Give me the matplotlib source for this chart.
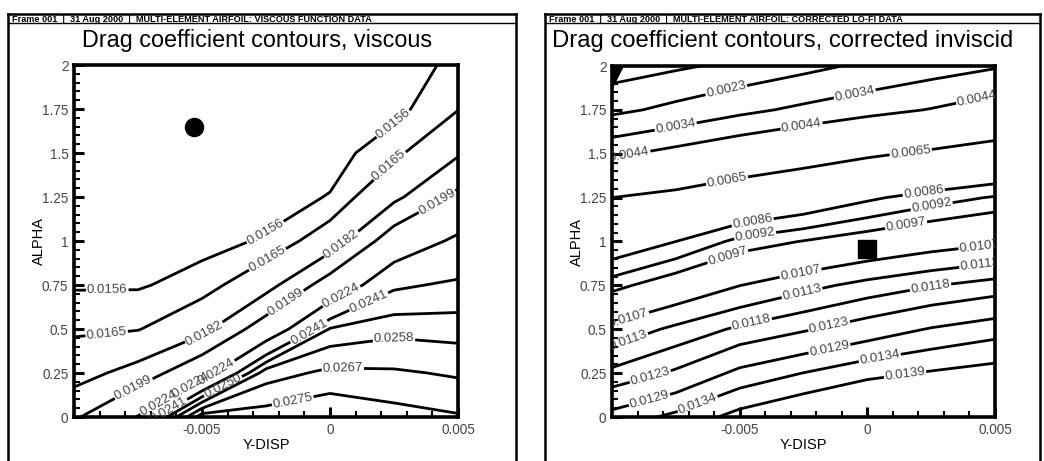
import numpy as np
import matplotlib
matplotlib.use('Agg')
import matplotlib.pyplot as plt
from matplotlib.lines import Line2D
from matplotlib.ticker import FixedLocator, MultipleLocator, FuncFormatter

plt.rcParams['font.family'] = ['Liberation Sans', 'DejaVu Sans']
plt.rcParams['axes.unicode_minus'] = False

# ---------------- data ----------------
ydisp = [-0.01, -0.0075, -0.005, -0.0025, 0.0, 0.0025, 0.005]
alpha = [0.0, 0.25, 0.5, 0.75, 1.0, 1.25, 1.5, 1.75, 2.0]

# viscous drag coefficient (rows = alpha, cols = ydisp)
cd_viscous = [
    [0.01960, 0.02250, 0.02800, 0.02790, 0.02818, 0.02782, 0.02758],
    [0.01754, 0.01882, 0.02144, 0.02631, 0.02691, 0.02682, 0.02659],
    [0.01627, 0.01643, 0.01770, 0.02093, 0.02507, 0.02553, 0.02542],
    [0.01551, 0.01550, 0.01597, 0.01755, 0.02081, 0.02391, 0.02430],
    [0.01530, 0.01525, 0.01530, 0.01570, 0.01724, 0.02099, 0.02278],
    [0.01510, 0.01500, 0.01500, 0.01520, 0.01565, 0.01781, 0.02033],
    [0.01500, 0.01485, 0.01470, 0.01490, 0.01520, 0.01620, 0.01800],
    [0.01490, 0.01480, 0.01460, 0.01480, 0.01500, 0.01530, 0.01645],
    [0.01490, 0.01480, 0.01470, 0.01480, 0.01490, 0.01510, 0.01584],
]

# corrected inviscid drag coefficient (rows = alpha, cols = ydisp)
cd_corrected = [
    [0.01309, 0.01353, 0.01409, 0.01445, 0.01477, 0.01490, 0.01500],
    [0.01193, 0.01239, 0.01304, 0.01341, 0.01375, 0.01395, 0.01411],
    [0.01090, 0.01143, 0.01190, 0.01224, 0.01259, 0.01294, 0.01319],
    [0.00950, 0.01013, 0.01069, 0.01112, 0.01148, 0.01177, 0.01201],
    [0.00798, 0.00860, 0.00938, 0.00973, 0.01007, 0.01037, 0.01060],
    [0.00650, 0.00688, 0.00746, 0.00791, 0.00847, 0.00892, 0.00926],
    [0.00420, 0.00475, 0.00530, 0.00580, 0.00630, 0.00672, 0.00717],
    [0.00205, 0.00257, 0.00314, 0.00362, 0.00406, 0.00445, 0.00495],
    [0.00080, 0.00115, 0.00153, 0.00200, 0.00250, 0.00293, 0.00330],
]

levels_viscous = [0.0156, 0.0165, 0.0182, 0.0199, 0.0224, 0.0241, 0.0250, 0.0258, 0.0267, 0.0275]
levels_corrected = [0.0013, 0.0023, 0.0034, 0.0044, 0.0065, 0.0086, 0.0092, 0.0097,
                    0.0107, 0.0113, 0.0118, 0.0123, 0.0129, 0.0134, 0.0139]

opt_viscous = (-0.0053, 1.645)
opt_corrected = (0.0, 0.96)
corner_corrected = (-0.01, 2.0)

y_ticks = [0, 0.25, 0.5, 0.75, 1.0, 1.25, 1.5, 1.75, 2.0]
x_ticks = [-0.005, 0.0, 0.005]

titles = ["Drag coefficient contours, viscous",
          "Drag coefficient contours, corrected inviscid"]
headers = ["Frame 001  |  31 Aug 2000  |  MULTI-ELEMENT AIRFOIL: VISCOUS FUNCTION DATA",
           "Frame 001  |  31 Aug 2000  |  MULTI-ELEMENT AIRFOIL: CORRECTED LO-FI DATA"]

# label placement (layout only)
lab_viscous = [(-0.0087, 0.71), (-0.0026, 1.07), (0.0025, 1.66),
               (-0.0087, 0.44), (-0.0025, 0.91), (0.0025, 1.40),
               (-0.0048, 0.45), (0.0005, 0.97),
               (-0.0077, 0.17), (-0.0016, 0.625), (0.0042, 1.22),
               (-0.0055, 0.19), (0.0004, 0.70),
               (-0.0044, 0.25), (0.0015, 0.66),
               (-0.0067, 0.08), (-0.0008, 0.48),
               (-0.0042, 0.18), (0.0025, 0.45),
               (-0.0063, 0.04), (0.0005, 0.30),
               (-0.0015, 0.125)]
lab_corrected = [(-0.0055, 1.846), (-0.0075, 1.65), (-0.0005, 1.846),
                 (-0.0093, 1.48), (-0.0026, 1.68), (0.0043, 1.81),
                 (-0.0055, 1.35), (0.0017, 1.51),
                 (-0.0045, 1.12), (0.0022, 1.29),
                 (-0.0044, 1.04), (0.0025, 1.22),
                 (-0.0055, 0.93), (0.0015, 1.11),
                 (-0.0093, 0.535), (-0.0026, 0.81), (0.0044, 0.97),
                 (-0.0093, 0.41), (-0.0026, 0.735), (0.0044, 0.88),
                 (-0.0045, 0.51), (0.0025, 0.72),
                 (-0.0085, 0.23), (-0.0015, 0.52),
                 (-0.0085, 0.08), (-0.0015, 0.40),
                 (-0.0066, 0.057), (0.0005, 0.325),
                 (0.0015, 0.22)]

# ---------------- figure ----------------
W, H = 1044, 461
fig = plt.figure(figsize=(W / 100, H / 100), dpi=100)


def fx(px):
    return px / W


def fy(py):
    return 1 - py / H


# panel frames
for (x0, x1) in [(8, 516), (545, 1040)]:
    fig.add_artist(Line2D([fx(x0), fx(x0)], [fy(14), -0.05], color='black', lw=1.8))
    fig.add_artist(Line2D([fx(x1), fx(x1)], [fy(14), -0.05], color='black', lw=1.8))
    fig.add_artist(Line2D([fx(x0), fx(x1)], [fy(14), fy(14)], color='black', lw=1.8))
    fig.add_artist(Line2D([fx(x0), fx(x1)], [fy(23.5), fy(23.5)], color='black', lw=1.0))

fig.text(fx(12), fy(19), headers[0], fontsize=6.6, fontweight='bold', va='center', ha='left')
fig.text(fx(549), fy(19), headers[1], fontsize=6.6, fontweight='bold', va='center', ha='left')

fig.text(fx(257), fy(41), titles[0], fontsize=16.8, ha='center', va='center')
fig.text(fx(783), fy(41), titles[1], fontsize=17.2, ha='center', va='center')

ax_pos = [(74, 458, 65, 417), (612, 995, 66, 417)]
data = [cd_viscous, cd_corrected]
levels = [levels_viscous, levels_corrected]
labpos = [lab_viscous, lab_corrected]

X, Y = np.meshgrid(ydisp, alpha)
axes = []
for i in range(2):
    l, r, t, b = ax_pos[i]
    ax = fig.add_axes([fx(l), fy(b), (r - l) / W, (b - t) / H])
    axes.append(ax)
    Z = np.array(data[i])
    cs = ax.contour(X, Y, Z, levels=levels[i], colors='black', linewidths=2.0)
    ax.clabel(cs, fmt=lambda v: f"{v:.4f}", fontsize=9.5, colors='#444444',
              inline=True, inline_spacing=1, manual=labpos[i])
    for tx in cs.labelTexts:
        tx.set_clip_on(True)
    ax.set_xlim(-0.01, 0.005)
    ax.set_ylim(0, 2)
    ax.xaxis.set_major_locator(FixedLocator(x_ticks))
    ax.xaxis.set_minor_locator(MultipleLocator(0.001))
    ax.yaxis.set_major_locator(FixedLocator(y_ticks))
    ax.yaxis.set_minor_locator(MultipleLocator(0.05))
    ax.xaxis.set_major_formatter(FuncFormatter(lambda v, p: f"{v:g}"))
    ax.yaxis.set_major_formatter(FuncFormatter(lambda v, p: f"{v:g}"))
    ax.tick_params(which='major', direction='in', length=7, width=2.2, labelsize=9.8,
                   labelcolor='#444444', pad=4)
    ax.tick_params(which='minor', direction='in', length=4, width=1.5)
    for s in ax.spines.values():
        s.set_linewidth(2.6)
    ax.set_xlabel('Y-DISP', fontsize=10.5, labelpad=1)
    ax.set_ylabel('ALPHA', fontsize=10.5, labelpad=-3)

axes[0].plot([opt_viscous[0]], [opt_viscous[1]], 'o', color='black', markersize=13, zorder=5)
axes[1].plot([opt_corrected[0]], [opt_corrected[1]], 's', color='black', markersize=13, zorder=5)
axes[1].plot([corner_corrected[0]], [corner_corrected[1]], 'v', color='black', markersize=30,
             zorder=5, clip_on=True)

fig.savefig('out.png', dpi=100)
